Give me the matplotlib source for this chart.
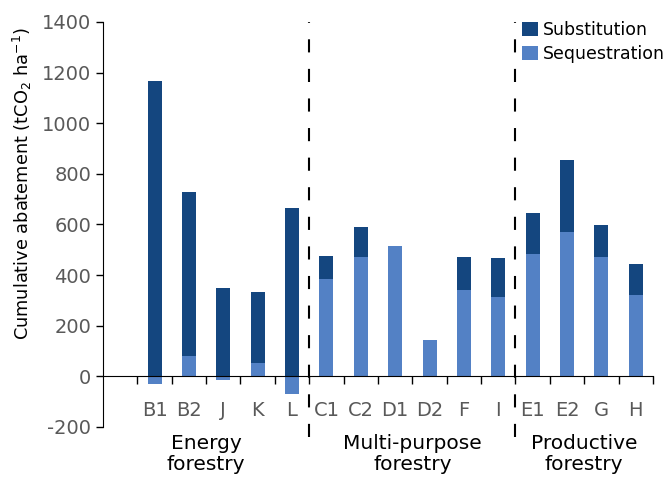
import matplotlib.pyplot as plt
import numpy as np

plt.rcParams['font.family'] = ['DejaVu Sans']
plt.rcParams['axes.unicode_minus'] = False

categories = ['B1', 'B2', 'J', 'K', 'L', 'C1', 'C2', 'D1', 'D2', 'F', 'I', 'E1', 'E2', 'G', 'H']
sequestration = [-30, 82, -15, 53, -70, 386, 473, 514, 142, 340, 312, 482, 569, 470, 320]
substitution = [1165, 648, 350, 282, 666, 89, 116, 0, 0, 133, 154, 162, 284, 126, 122]
groups = ['Energy\nforestry', 'Multi-purpose\nforestry', 'Productive\nforestry']
group_centers = [2.5, 8.5, 13.5]
dividers = [5.5, 11.5]

dark = '#14467f'
light = '#5381c5'
grey = '#595959'

fig = plt.figure(figsize=(6.67, 4.79), dpi=100)
ax = fig.add_axes([0.1544, 0.1086, 0.8246, 0.8455])

x = np.arange(1, len(categories) + 1)
seq = np.array(sequestration)
sub_bottom = np.clip(seq, 0, None)

ax.bar(x, seq, width=0.41, color=light, label='Sequestration', zorder=2)
ax.bar(x, substitution, width=0.41, bottom=sub_bottom, color=dark, label='Substitution', zorder=2)

ax.set_xlim(-0.5, 15.5)
ax.set_ylim(-200, 1400)
ax.set_yticks(np.arange(-200, 1401, 200))
ax.tick_params(axis='y', direction='out', length=5, labelsize=14, labelcolor=grey, width=1)

# x axis at zero, ticks at the category boundaries
ax.spines['bottom'].set_position(('data', 0))
ax.spines['top'].set_visible(False)
ax.spines['right'].set_visible(False)
ax.set_xticks(np.arange(0.5, 16, 1))
ax.tick_params(axis='x', direction='out', length=6, labelbottom=False, width=1)

for xi, lab in zip(x, categories):
    ax.text(xi, -135, lab, ha='center', va='center', fontsize=14, color=grey, clip_on=False)

for xc, g in zip(group_centers, groups):
    ax.text(xc, -228, g, ha='center', va='top', fontsize=14.5, color='black',
            linespacing=1.1, clip_on=False)

for d in dividers:
    ax.axvline(d, ymin=-0.025, ymax=1, color='black', linestyle=(0, (6.3, 7.9)), lw=1.5,
               clip_on=False, zorder=3)

ax.set_ylabel(r'Cumulative abatement (tCO$_2$ ha$^{-1}$)', fontsize=12.8)
ax.yaxis.set_label_coords(-0.125, 0.6)

handles, labels = ax.get_legend_handles_labels()
ax.legend(handles[::-1], labels[::-1], loc='upper right', frameon=False, fontsize=12.5,
          handlelength=0.9, handleheight=0.9, handletextpad=0.3, labelspacing=0.35,
          borderaxespad=0.0, bbox_to_anchor=(1.035, 1.02))

fig.savefig('out.png', dpi=100)
